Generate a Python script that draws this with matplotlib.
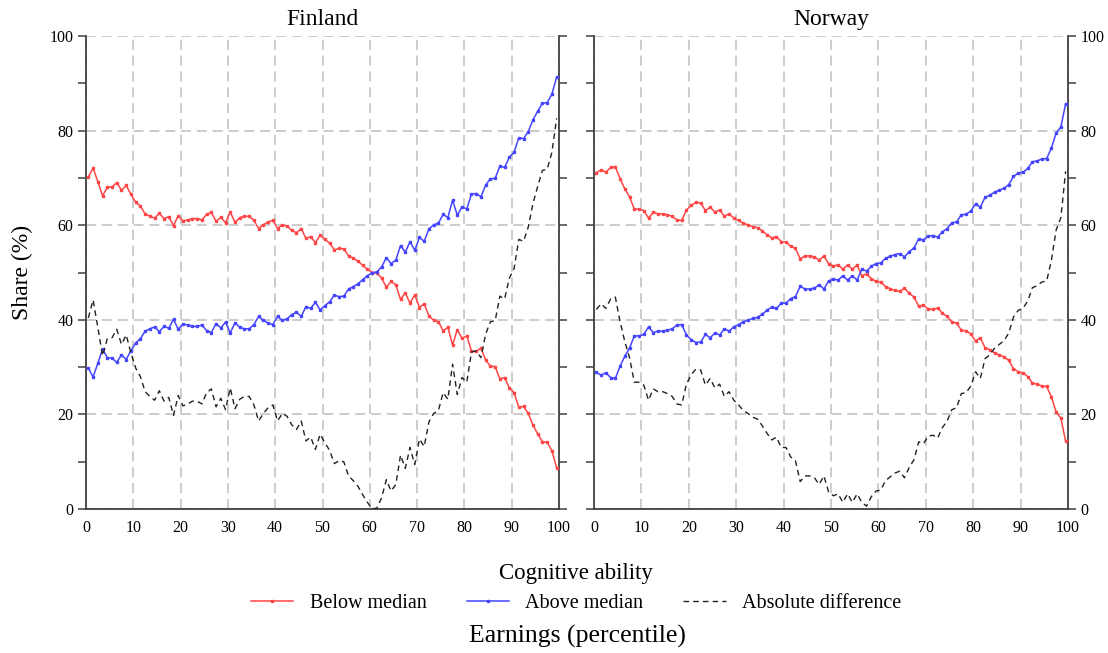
import numpy as np
import matplotlib
matplotlib.use("Agg")
import matplotlib.pyplot as plt
from matplotlib.lines import Line2D

plt.rcParams['font.family'] = ['Liberation Serif', 'DejaVu Serif']

countries = ["Finland", "Norway"]
percentile = np.arange(100) + 0.5

finland_below = [
    70.2, 72.1, 69.2, 66.2, 68.0, 68.1, 69.0, 67.4, 68.4, 66.5,
    64.9, 64.0, 62.4, 61.9, 61.5, 62.5, 61.4, 61.8, 59.9, 62.0,
    60.9, 61.1, 61.4, 61.4, 61.1, 62.3, 62.7, 60.8, 61.7, 60.5,
    62.8, 60.6, 61.6, 61.9, 61.9, 61.0, 59.3, 60.1, 60.7, 61.0,
    59.3, 60.1, 59.8, 58.9, 58.4, 59.3, 57.2, 57.6, 56.3, 57.9,
    57.0, 56.2, 54.8, 55.1, 55.0, 53.5, 53.0, 52.4, 51.5, 50.7,
    50.0, 49.9, 48.8, 46.9, 48.1, 47.4, 44.3, 45.7, 43.5, 45.3,
    42.6, 43.4, 40.8, 39.9, 39.6, 37.7, 38.4, 34.7, 37.9, 36.1,
    36.6, 33.4, 33.3, 34.0, 31.5, 30.2, 30.1, 27.5, 27.8, 25.6,
    24.6, 21.5, 21.7, 20.2, 17.7, 15.9, 14.2, 14.1, 12.3, 8.7,
]

norway_below = [
    71.1, 71.7, 71.2, 72.2, 72.4, 69.8, 67.7, 66.0, 63.4, 63.4,
    63.1, 61.5, 62.7, 62.4, 62.4, 62.2, 61.9, 61.1, 61.0, 63.2,
    64.2, 64.8, 64.7, 63.1, 63.8, 62.8, 63.2, 61.9, 62.4, 61.5,
    61.0, 60.4, 60.1, 59.7, 59.5, 58.8, 58.0, 57.3, 57.6, 56.5,
    56.5, 55.5, 55.1, 52.9, 53.5, 53.5, 53.3, 52.6, 53.5, 51.8,
    51.4, 51.6, 50.7, 51.6, 50.7, 51.6, 49.3, 49.7, 48.7, 48.1,
    48.0, 47.0, 46.6, 46.2, 46.0, 46.7, 45.6, 44.8, 42.9, 43.1,
    42.3, 42.2, 42.5, 41.4, 40.7, 39.5, 39.3, 37.8, 37.7, 37.0,
    35.5, 36.2, 34.1, 33.7, 33.0, 32.6, 32.2, 31.4, 29.7, 29.0,
    28.8, 28.0, 26.6, 26.4, 26.0, 25.9, 23.7, 20.5, 19.2, 14.3,
]

x_ticks = [0, 10, 20, 30, 40, 50, 60, 70, 80, 90, 100]
y_ticks = [0, 20, 40, 60, 80, 100]
series_labels = ["Below median", "Above median", "Absolute difference"]

RED = "#ff4545"
BLUE = "#4545ff"
DIFF = "#222222"
GRID = "#c4c4c4"
SPINE = "#404040"

fig = plt.figure(figsize=(11.08, 6.53), dpi=100)
axes = [fig.add_axes([86/1108, 1-509/653, (559-86)/1108, (509-36)/653]),
        fig.add_axes([594/1108, 1-509/653, (1068-594)/1108, (509-36)/653])]

for i, (ax, name, below) in enumerate(zip(axes, countries, [finland_below, norway_below])):
    below = np.array(below)
    above = 100 - below
    diff = np.abs(below - above)
    ax.plot(percentile, below, color=RED, lw=1.1, marker='s', ms=2.0, zorder=3)
    ax.plot(percentile, above, color=BLUE, lw=1.1, marker='s', ms=2.0, zorder=3)
    ax.plot(percentile, diff, color=DIFF, lw=1.0, linestyle=(0, (4, 3)), zorder=3)
    ax.set_xlim(0, 100)
    ax.set_ylim(0, 100)
    ax.set_xticks(x_ticks)
    ax.set_yticks(y_ticks)
    ax.set_yticks(np.arange(10, 100, 20), minor=True)
    ax.grid(True, which='major', color=GRID, lw=1.2, linestyle=(0, (6, 3.5)), zorder=0)
    ax.set_axisbelow(True)
    ax.spines['top'].set_visible(False)
    for s in ['left', 'right', 'bottom']:
        ax.spines[s].set_color(SPINE)
        ax.spines[s].set_linewidth(1.3)
    ax.tick_params(axis='y', which='both', direction='out', length=6, width=1.1, color=SPINE,
                   labelsize=11.5, left=True, right=True, pad=3)
    ax.tick_params(axis='x', which='both', length=0, labelsize=11.5, pad=8, top=False)
    if i == 0:
        ax.tick_params(axis='y', which='both', labelleft=True, labelright=False)
    else:
        ax.tick_params(axis='y', which='both', labelleft=False, labelright=True)
    ax.set_title(name, fontsize=17, pad=8)

fig.text(22/1108, 1-272/653, "Share (%)", rotation=90, ha='center', va='center', fontsize=17)
fig.text(577/1108, 1-636/653, "Earnings (percentile)", ha='center', va='center', fontsize=18.5)

handles = [Line2D([], [], color=RED, lw=1.1, marker='s', ms=2.0),
           Line2D([], [], color=BLUE, lw=1.1, marker='s', ms=2.0),
           Line2D([], [], color=DIFF, lw=1.0, linestyle=(0, (4, 3)))]
leg = fig.legend(handles, series_labels, loc='center', bbox_to_anchor=(576/1108, 1-588/653),
                 ncol=3, frameon=False, fontsize=14.5, title="Cognitive ability",
                 title_fontsize=16.5, handlelength=2.1, handletextpad=0.8,
                 columnspacing=2.0, numpoints=1)

fig.savefig("out.png", dpi=100)
